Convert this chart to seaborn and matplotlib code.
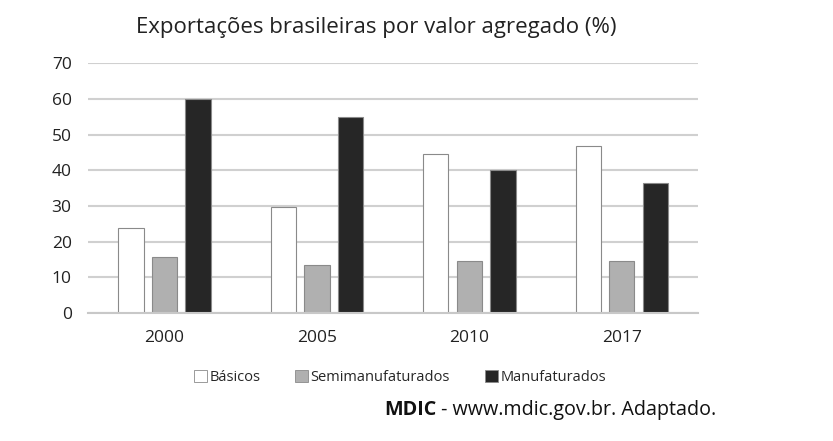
import pandas as pd
import seaborn as sns
import matplotlib.pyplot as plt
from matplotlib.patches import Patch

anos = ["2000", "2005", "2010", "2017"]
basicos = [23.7, 29.8, 44.6, 46.9]
semimanufaturados = [15.6, 13.4, 14.5, 14.7]
manufaturados = [60.0, 55.0, 40.0, 36.5]
series = ["Básicos", "Semimanufaturados", "Manufaturados"]

df = pd.DataFrame({"ano": anos * 3,
                   "valor": basicos + semimanufaturados + manufaturados,
                   "tipo": [s for s in series for _ in anos]})

sns.set_style("white")
plt.rcParams['font.family'] = ['Open Sans', 'DejaVu Sans']

fig = plt.figure(figsize=(8.33, 4.41), dpi=100)
ax = fig.add_axes([0.106, 0.29, 0.732, 0.567])

cores = {"Básicos": "white", "Semimanufaturados": "#b0b0b0", "Manufaturados": "#262626"}
sns.barplot(data=df, x="ano", y="valor", hue="tipo", palette=cores, width=0.66, gap=0.25,
            edgecolor="#8a8a8a", linewidth=0.8, legend=False, ax=ax)

ax.set_ylim(0, 70)
ax.set_yticks(range(0, 71, 10))
ax.yaxis.grid(True, color="#d0d0d0", linewidth=1.5)
ax.set_axisbelow(True)
for s in ["top", "right", "left"]:
    ax.spines[s].set_visible(False)
ax.spines["bottom"].set_color("#c8c8c8")
ax.spines["bottom"].set_linewidth(1.5)
ax.set_xlabel("")
ax.set_ylabel("")
ax.tick_params(axis="both", length=0, labelsize=12.5, colors="#222222")
ax.tick_params(axis="x", pad=12)
ax.tick_params(axis="y", pad=12)

fig.text(0.452, 0.937, "Exportações brasileiras por valor agregado (%)", ha="center", va="center",
         fontsize=16, color="#222222")

handles = [Patch(facecolor=cores[s], edgecolor="#8a8a8a", linewidth=0.6) for s in series]
fig.legend(handles, series, loc="center", bbox_to_anchor=(0.48, 0.145), ncol=3, frameon=False,
           fontsize=10.5, handlelength=0.9, handleheight=0.9, handletextpad=0.15, columnspacing=2.4)

fonte = fig.text(0.461, 0.07, "MDIC", ha="left", va="center", fontsize=14.2, fontweight="bold",
                 color="#111111")
ax.annotate(" - www.mdic.gov.br. Adaptado.", xy=(1, 0.5), xycoords=fonte, ha="left", va="center",
            fontsize=14.2, color="#111111", annotation_clip=False)

fig.savefig("out.png", dpi=100)
